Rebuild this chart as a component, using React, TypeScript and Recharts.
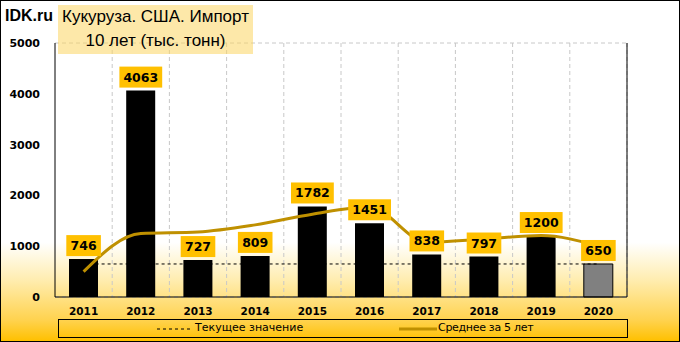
import {
    ComposedChart,
    Bar,
    Line,
    XAxis,
    YAxis,
    CartesianGrid,
    Cell,
    LabelList,
} from "recharts";

const years = ["2011", "2012", "2013", "2014", "2015", "2016", "2017", "2018", "2019", "2020"];
const imports = [746, 4063, 727, 809, 1782, 1451, 838, 797, 1200, 650];
const avg5 = [500, 1250, 1280, 1420, 1630, 1770, 1080, 1140, 1210, 1000];
const current = [650, 650, 650, 650, 650, 650, 650, 650, 650, 650];
const yTicks = [0, 1000, 2000, 3000, 4000, 5000];

const data = years.map((y, i) => ({ year: y, imports: imports[i], avg: avg5[i], current: current[i] }));

const FONT = "'DejaVu Sans', Tahoma, sans-serif";

function ValueBox(props: any) {
    const { x, y, value } = props;
    if (value == null) return null;
    const txt = String(value);
    const w = txt.length * 8.2 + 10;
    const h = 21;
    const bottom = y - 3;
    return (
        <g>
            <rect x={x - w / 2} y={bottom - h} width={w} height={h} fill="#FFC000" />
            <text
                x={x}
                y={bottom - h / 2 + 4.5}
                textAnchor="middle"
                fontFamily={FONT}
                fontWeight="bold"
                fontSize={12.5}
                fill="#000"
            >
                {txt}
            </text>
        </g>
    );
}

// legend drawn as a plain overlay box, like the Excel one
function LegendBox() {
    return (
        <div
            style={{
                position: "absolute",
                left: 57,
                top: 318,
                boxSizing: "border-box",
                width: 570,
                height: 19,
                border: "1px solid #000",
                fontFamily: FONT,
                fontSize: 11,
                color: "#000",
            }}
        >
            <svg width={34} height={6} style={{ position: "absolute", left: 98, top: 6 }}>
                <line x1={0} y1={3} x2={34} y2={3} stroke="#000" strokeWidth={1} strokeDasharray="3 3" />
            </svg>
            <span style={{ position: "absolute", left: 136, top: 1 }}>Текущее значение</span>
            <svg width={38} height={6} style={{ position: "absolute", left: 340, top: 6 }}>
                <line x1={0} y1={3} x2={38} y2={3} stroke="#BF9000" strokeWidth={3} />
            </svg>
            <span style={{ position: "absolute", left: 379, top: 1, letterSpacing: -0.3 }}>Среднее за 5 лет</span>
        </div>
    );
}

export default function App() {
    return (
        <div
            style={{
                position: "absolute",
                left: 0,
                top: 0,
                width: 680,
                height: 342,
                boxSizing: "border-box",
                border: "1px solid #000",
                background: "linear-gradient(180deg, #ffffff 0%, #ffffff 71%, #FFEDB0 82%, #FFD24D 94%, #FFC000 100%)",
                overflow: "hidden",
            }}
        >
            <div style={{ position: "absolute", left: -1, top: -1 }}>
                <ComposedChart width={680} height={342} data={data} margin={{ top: 43, right: 0, bottom: 25, left: 0 }}>
                    <CartesianGrid
                        stroke="#c8c8c8"
                        strokeDasharray="4 3"
                        verticalCoordinatesGenerator={({ offset }: any) =>
                            years.map((_, i) => offset.left + ((i + 1) * offset.width) / years.length)
                        }
                    />
                    <XAxis
                        dataKey="year"
                        height={20}
                        axisLine={{ stroke: "#000" }}
                        tickLine={false}
                        tickMargin={5}
                        tick={{ fill: "#000", fontSize: 10.5, fontWeight: "bold", fontFamily: FONT }}
                        interval={0}
                    />
                    <YAxis
                        yAxisId="left"
                        width={55}
                        domain={[0, 5000]}
                        ticks={yTicks}
                        tickLine={false}
                        tickMargin={9}
                        axisLine={{ stroke: "#000" }}
                        tick={{ fill: "#000", fontSize: 11, fontWeight: "bold", fontFamily: FONT }}
                    />
                    <YAxis
                        yAxisId="right"
                        orientation="right"
                        width={53}
                        domain={[0, 5000]}
                        ticks={yTicks}
                        tickLine={false}
                        tickMargin={8}
                        axisLine={{ stroke: "#000" }}
                        tick={{ fill: "#000", fontSize: 11, fontWeight: "bold", fontFamily: FONT }}
                    />
                    <Line
                        yAxisId="left"
                        dataKey="current"
                        stroke="#000"
                        strokeWidth={1}
                        strokeDasharray="3 3"
                        dot={false}
                        isAnimationActive={false}
                    />
                    <Bar yAxisId="left" dataKey="imports" barSize={29} isAnimationActive={false}>
                        {data.map((d, i) => (
                            <Cell
                                key={i}
                                fill={i === data.length - 1 ? "#808080" : "#000"}
                                stroke="#000"
                                strokeWidth={i === data.length - 1 ? 1 : 0}
                            />
                        ))}
                    </Bar>
                    <Line
                        yAxisId="left"
                        type="monotone"
                        dataKey="avg"
                        stroke="#BF9000"
                        strokeWidth={3}
                        dot={false}
                        isAnimationActive={false}
                    />
                    <Line
                        yAxisId="left"
                        dataKey="imports"
                        stroke="none"
                        dot={false}
                        activeDot={false}
                        legendType="none"
                        isAnimationActive={false}
                    >
                        <LabelList dataKey="imports" content={<ValueBox />} />
                    </Line>
                </ComposedChart>
            </div>
            <LegendBox />
            <div
                style={{
                    position: "absolute",
                    left: 4,
                    top: 6,
                    fontFamily: "'Liberation Sans', Arial, sans-serif",
                    fontWeight: "bold",
                    fontSize: 16,
                    color: "#000",
                }}
            >
                IDK.ru
            </div>
            <div
                style={{
                    position: "absolute",
                    left: 57,
                    top: 4,
                    width: 195,
                    height: 49,
                    background: "rgba(252, 213, 98, 0.55)",
                    fontFamily: "'Liberation Sans', Arial, sans-serif",
                    fontSize: 17,
                    color: "#000",
                    textAlign: "center",
                    lineHeight: "24px",
                }}
            >
                <div>Кукуруза. США. Импорт</div>
                <div>10 лет (тыс. тонн)</div>
            </div>
        </div>
    );
}
